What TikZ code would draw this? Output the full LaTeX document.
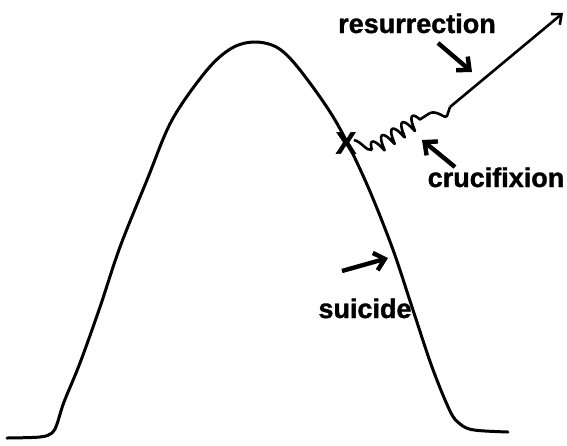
\documentclass[tikz,border=0pt]{standalone}
\usepackage{fontspec}
\setmainfont{Liberation Sans}[BoldFeatures={FakeBold=1.2}]
\usetikzlibrary{arrows.meta, decorations.pathmorphing}

\begin{document}
\begin{tikzpicture}[
  x=1pt, y=-1pt,
  lbl/.style={font=\fontsize{27}{30}\selectfont\bfseries, inner sep=0pt},
  hill/.style={line width=3pt, line join=round, line cap=round},
  pointer/.style={-{Straight Barb[length=10pt,width=18pt]}, line width=4.4pt},
  trail/.style={line width=2.6pt, line join=round},
  spring/.style={decorate, decoration={coil, segment length=12pt, amplitude=7pt, aspect=0.2}}
]
\useasboundingbox (0,0) rectangle (567,445);

% the life curve
\draw[hill] plot[smooth, tension=0.55] coordinates {
  (7,438) (40,437) (52,433) (57,424) (64,402) (80,363) (100,307) (120,247)
  (147,180) (172,120) (207,70) (232,48) (255,42) (278,48) (300,70) (335,120)
  (365,180) (392,247) (412,307) (432,367) (450,411) (460,424) (474,430) (508,432)};

% labels
\node[lbl, font=\fontsize{31}{31}\selectfont\bfseries] (cross) at (346,143) {X};
\node[lbl, anchor=base] (resur) at (417,33) {resurrection};
\node[lbl, anchor=base] (cruci) at (496,187) {crucifixion};
\node[lbl, anchor=base] (suic) at (365,318) {suicide};

% the way out
\coordinate (c0) at (354,140);
\coordinate (c1) at (372,150);
\coordinate (c2) at (430,113);
\coordinate (c3) at (447,116);
\coordinate (c4) at (450,107);
\coordinate (top) at (563,13);
\draw[trail] (c0) .. controls (362,142) and (366,151) .. (c1);
\draw[trail, spring] (c1) -- (c2);
\draw[trail] (c2) .. controls (438,110) and (446,120) .. (c3) -- (c4);
\draw[trail, -{Straight Barb[length=8pt,width=14pt]}] (c4) -- (top);

% pointers
\coordinate (p1a) at (438,43);
\coordinate (p1b) at (472,72);
\coordinate (p2a) at (455,167);
\coordinate (p2b) at (422,140);
\coordinate (p3a) at (342,271);
\coordinate (p3b) at (388,258);
\draw[pointer] (p1a) -- (p1b);
\draw[pointer] (p2a) -- (p2b);
\draw[pointer] (p3a) -- (p3b);
\end{tikzpicture}
\end{document}
